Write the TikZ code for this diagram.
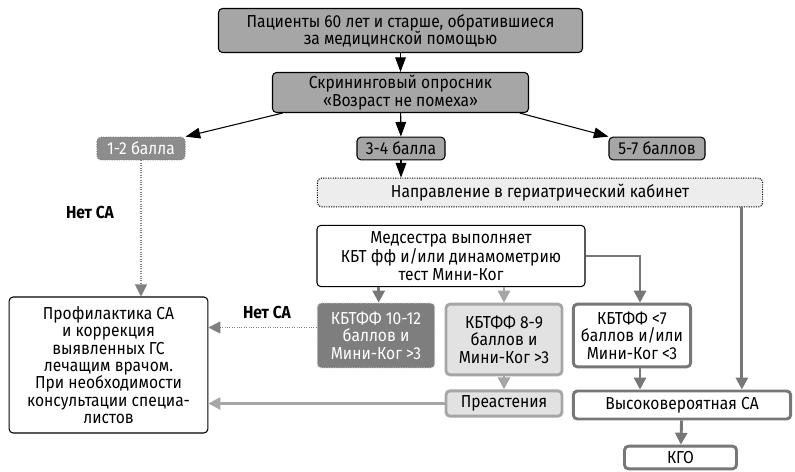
\documentclass[tikz,border=0pt]{standalone}
\usepackage{fontspec}
\setmainfont[FakeStretch=0.9]{Fira Sans}
\usepackage{tikz}
\usetikzlibrary{arrows.meta,positioning,calc}
\usepackage{xcolor}
\definecolor{boxgray}{HTML}{A6A6A6}
\definecolor{midgray}{HTML}{8C8C8C}
\definecolor{darkgray}{HTML}{777777}
\definecolor{lightfill}{HTML}{E2E2E2}
\definecolor{palefill}{HTML}{EDEDED}

\begin{document}
\begin{tikzpicture}[x=0.75pt,y=-0.75pt,
	font=\fontsize{13}{13}\selectfont,
	box/.style={draw,rounded corners=3pt,align=center,inner sep=1pt},
	dark/.style={box,fill=boxgray,line width=0.8pt},
	light/.style={box,fill=lightfill,draw=boxgray,line width=2.2pt},
	plain/.style={box,fill=white,draw=darkgray,line width=2.2pt},
	blk/.style={line width=0.8pt,-{Triangle[length=11pt,width=8pt]}},
	gry/.style={line width=2.2pt,-{Triangle[length=9pt,width=9pt]}},
	dots/.style={densely dotted,line width=0.8pt,-{Triangle[length=9pt,width=9pt]}}]
					\useasboundingbox (0,0) rectangle (795,471);
					\node[dark,minimum width=273pt,minimum height=33pt] (pat) at (400.5,30.5) {Пациенты 60 лет и старше, обратившиеся\\за медицинской помощью};
					\node[dark,minimum width=192pt,minimum height=30pt] (scr) at (400.5,92.5) {Скрининговый опросник\\«Возраст не помеха»};
					\node[box,fill=midgray,draw=gray,densely dotted,line width=0.8pt,text=white,minimum width=66pt,minimum height=17pt] (b12) at (141,148.5) {1-2 балла};
					\node[dark,minimum width=66pt,minimum height=17pt] (b34) at (401,148.5) {3-4 балла};
					\node[dark,minimum width=72pt,minimum height=17pt] (b57) at (657,148.5) {5-7 баллов};
					\node[box,fill=palefill,densely dotted,line width=0.8pt,minimum width=334pt,minimum height=21.5pt] (napr) at (540,192.5) {Направление в гериатрический кабинет};
					\node[box,fill=white,line width=0.8pt,minimum width=201pt,minimum height=46pt] (med) at (451,256) {Медсестра выполняет\\КБТ фф и/или динамометрию\\тест Мини-Ког};
					\node[box,fill=white,line width=0.8pt,minimum width=149pt,minimum height=102pt] (prof) at (108.5,365) {Профилактика СА\\и коррекция\\выявленных ГС\\лечащим врачом.\\При необходимости\\консультации специа-\\листов};
					\node[box,fill=darkgray!95,draw=lightgray,densely dotted,line width=0.8pt,text=white,minimum width=88pt,minimum height=48.5pt] (k1012) at (376,335.5) {КБТФФ 10-12\\баллов и\\Мини-Ког >3};
					\node[light,minimum width=87pt,minimum height=53pt] (k89) at (504,339.5) {КБТФФ 8-9\\баллов и\\Мини-Ког >3};
					\node[plain,minimum width=88pt,minimum height=47pt] (k7) at (632,335.5) {КБТФФ <7\\баллов и/или\\Мини-Ког <3};
					\node[light,minimum width=87pt,minimum height=19pt] (pre) at (504,403.5) {Преастения};
					\node[plain,minimum width=163pt,minimum height=21pt] (vys) at (682,405) {Высоковероятная СА};
					\node[plain,minimum width=84pt,minimum height=17pt] (kgo) at (680.5,457.5) {КГО};
					\node[font=\fontsize{13}{13}\selectfont\bfseries] (net1) at (90,212) {Нет СА};
					\node[font=\fontsize{13}{13}\selectfont\bfseries] (net2) at (267,312) {Нет СА};
					\coordinate (k1012w) at ([yshift=6pt]k1012.west);
					\coordinate (k1012n) at ([xshift=2pt]k1012.north);
					\coordinate (k7n) at ([xshift=6pt]k7.north);
					\coordinate (k7s) at ([xshift=6pt]k7.south);
					\coordinate (naprs) at ([xshift=-16pt]napr.south east);
					\draw[blk] (pat) -- (scr);
					\draw[blk] (scr) -- (b34);
					\draw[blk] (b34) -- (b34 |- napr.north);
					\draw[blk] ([xshift=8pt]scr.south west) -- (b12.north east);
					\draw[blk] ([xshift=-7pt]scr.south east) -- (b57.north west);
					\draw[dots,gray] (b12) -- (b12 |- prof.north);
					\draw[dots,gray] (k1012w) -- (prof.east |- k1012w);
					\draw[gry,darkgray] (k1012n |- med.south) -- (k1012n);
					\draw[gry,boxgray] (k89 |- med.south) -- (k89.north);
					\draw[gry,darkgray] (med.east) -| (k7n);
					\draw[gry,darkgray] (naprs) -- (naprs |- vys.north);
					\draw[gry,boxgray] (k89) -- (pre);
					\draw[gry,darkgray] (k7s) -- (k7s |- vys.north);
					\draw[gry,darkgray] (vys) -- (kgo);
					\draw[gry,boxgray] (pre.west) -- (prof.east |- pre.west);
				\end{tikzpicture}
\end{document}
